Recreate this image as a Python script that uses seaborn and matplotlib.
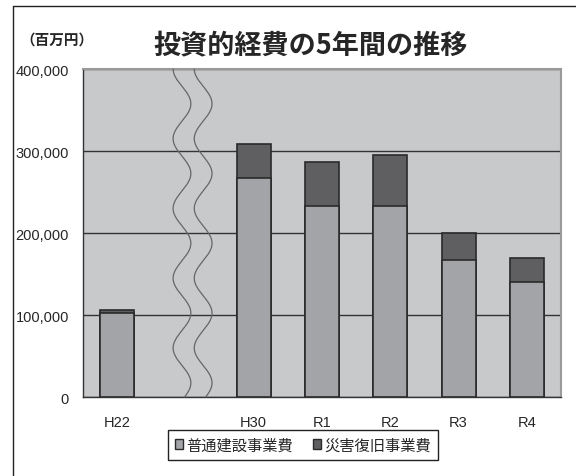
import numpy as np
import pandas as pd
import seaborn as sns
import matplotlib.pyplot as plt
from matplotlib.lines import Line2D
from matplotlib.patches import Patch

sns.set_style("white")
plt.rcParams['font.family'] = ['Liberation Sans', 'Noto Sans CJK JP', 'DejaVu Sans']

# data (百万円)
years = ["H22", "H30", "R1", "R2", "R3", "R4"]
ordinary = [103000, 267000, 233000, 233000, 167000, 140000]     # 普通建設事業費
disaster = [3000, 42000, 54000, 62000, 33000, 30000]            # 災害復旧事業費
order = ["H22", " ", "H30", "R1", "R2", "R3", "R4"]              # blank slot = break

df = pd.DataFrame({"year": years, "ordinary": ordinary, "disaster": disaster})
df["total"] = df["ordinary"] + df["disaster"]

c_base = "#a3a4a7"
c_top = "#5f5f61"
c_edge = "#2a2a2a"

fig = plt.figure(figsize=(5.76, 4.77), dpi=100)
ax = fig.add_axes([0.144, 0.1656, 0.83, 0.6876])
ax.set_facecolor("#c8c9cb")

ax.yaxis.grid(True, color="#333333", linewidth=1)
ax.set_axisbelow(True)

sns.barplot(data=df, x="year", y="total", order=order, color=c_top,
            width=0.5, edgecolor=c_edge, linewidth=1.2, saturation=1, ax=ax, zorder=3)
sns.barplot(data=df, x="year", y="ordinary", order=order, color=c_base,
            width=0.5, edgecolor=c_edge, linewidth=1.2, saturation=1, ax=ax, zorder=4)

# wavy break lines in the blank slot
yy = np.linspace(0, 1, 400)
for x0 in [0.95, 1.26]:
    ax.plot(x0 + 0.13 * np.sin(yy * 2 * np.pi * 4.7 + 0.3), yy, color="#666666",
            linewidth=0.9, transform=ax.get_xaxis_transform(), zorder=5, clip_on=False)

ax.set_xlim(-0.5, 6.5)
ax.set_ylim(0, 400000)
ax.set_yticks([0, 100000, 200000, 300000, 400000])
ax.set_yticklabels(["0", "100,000", "200,000", "300,000", "400,000"], fontsize=10.5)
ax.set_xticks(range(7))
ax.set_xticklabels(order, fontsize=10.5)
ax.set_xticks(np.arange(0.5, 6.5, 1), minor=True)
ax.tick_params(axis="x", which="major", length=0, pad=13)
ax.tick_params(axis="x", which="minor", length=4, direction="in", color="#333333")
ax.tick_params(axis="y", length=4, direction="out", color="#333333", pad=6)
ax.set_xlabel("")
ax.set_ylabel("")

for s in ["left", "bottom"]:
    ax.spines[s].set_color("#333333")
    ax.spines[s].set_linewidth(1)
for s in ["top", "right"]:
    ax.spines[s].set_color("#9a9a9a")
    ax.spines[s].set_linewidth(1.5)

# title and unit
fig.text(0.54, 0.905, "投資的経費の5年間の推移", fontsize=19.5, fontweight="bold",
         ha="center", va="center", family=["Noto Sans CJK JP", "DejaVu Sans"])
fig.text(0.035, 0.918, "（百万円）", fontsize=10.5, fontweight="bold",
         ha="left", va="center", family=["Noto Sans CJK JP", "DejaVu Sans"])

# legend
handles = [Patch(facecolor=c_base, edgecolor=c_edge, linewidth=1),
           Patch(facecolor=c_top, edgecolor=c_edge, linewidth=1)]
leg = fig.legend(handles, ["普通建設事業費", "災害復旧事業費"], ncol=2,
                 loc="center", bbox_to_anchor=(0.526, 0.065),
                 handlelength=0.55, handleheight=0.55, handletextpad=0.2,
                 columnspacing=1.3, fancybox=False, framealpha=1,
                 borderpad=0.45, prop={"family": ["Noto Sans CJK JP"], "size": 11})
leg.get_frame().set_edgecolor("#222222")
leg.get_frame().set_linewidth(1)

# outer frame (left and top edges)
fig.add_artist(Line2D([13 / 576, 13 / 576], [0, 1 - 7 / 477], color="#222222", linewidth=1))
fig.add_artist(Line2D([13 / 576, 1], [1 - 7 / 477, 1 - 7 / 477], color="#222222", linewidth=1))

fig.savefig("out.png", dpi=100)
